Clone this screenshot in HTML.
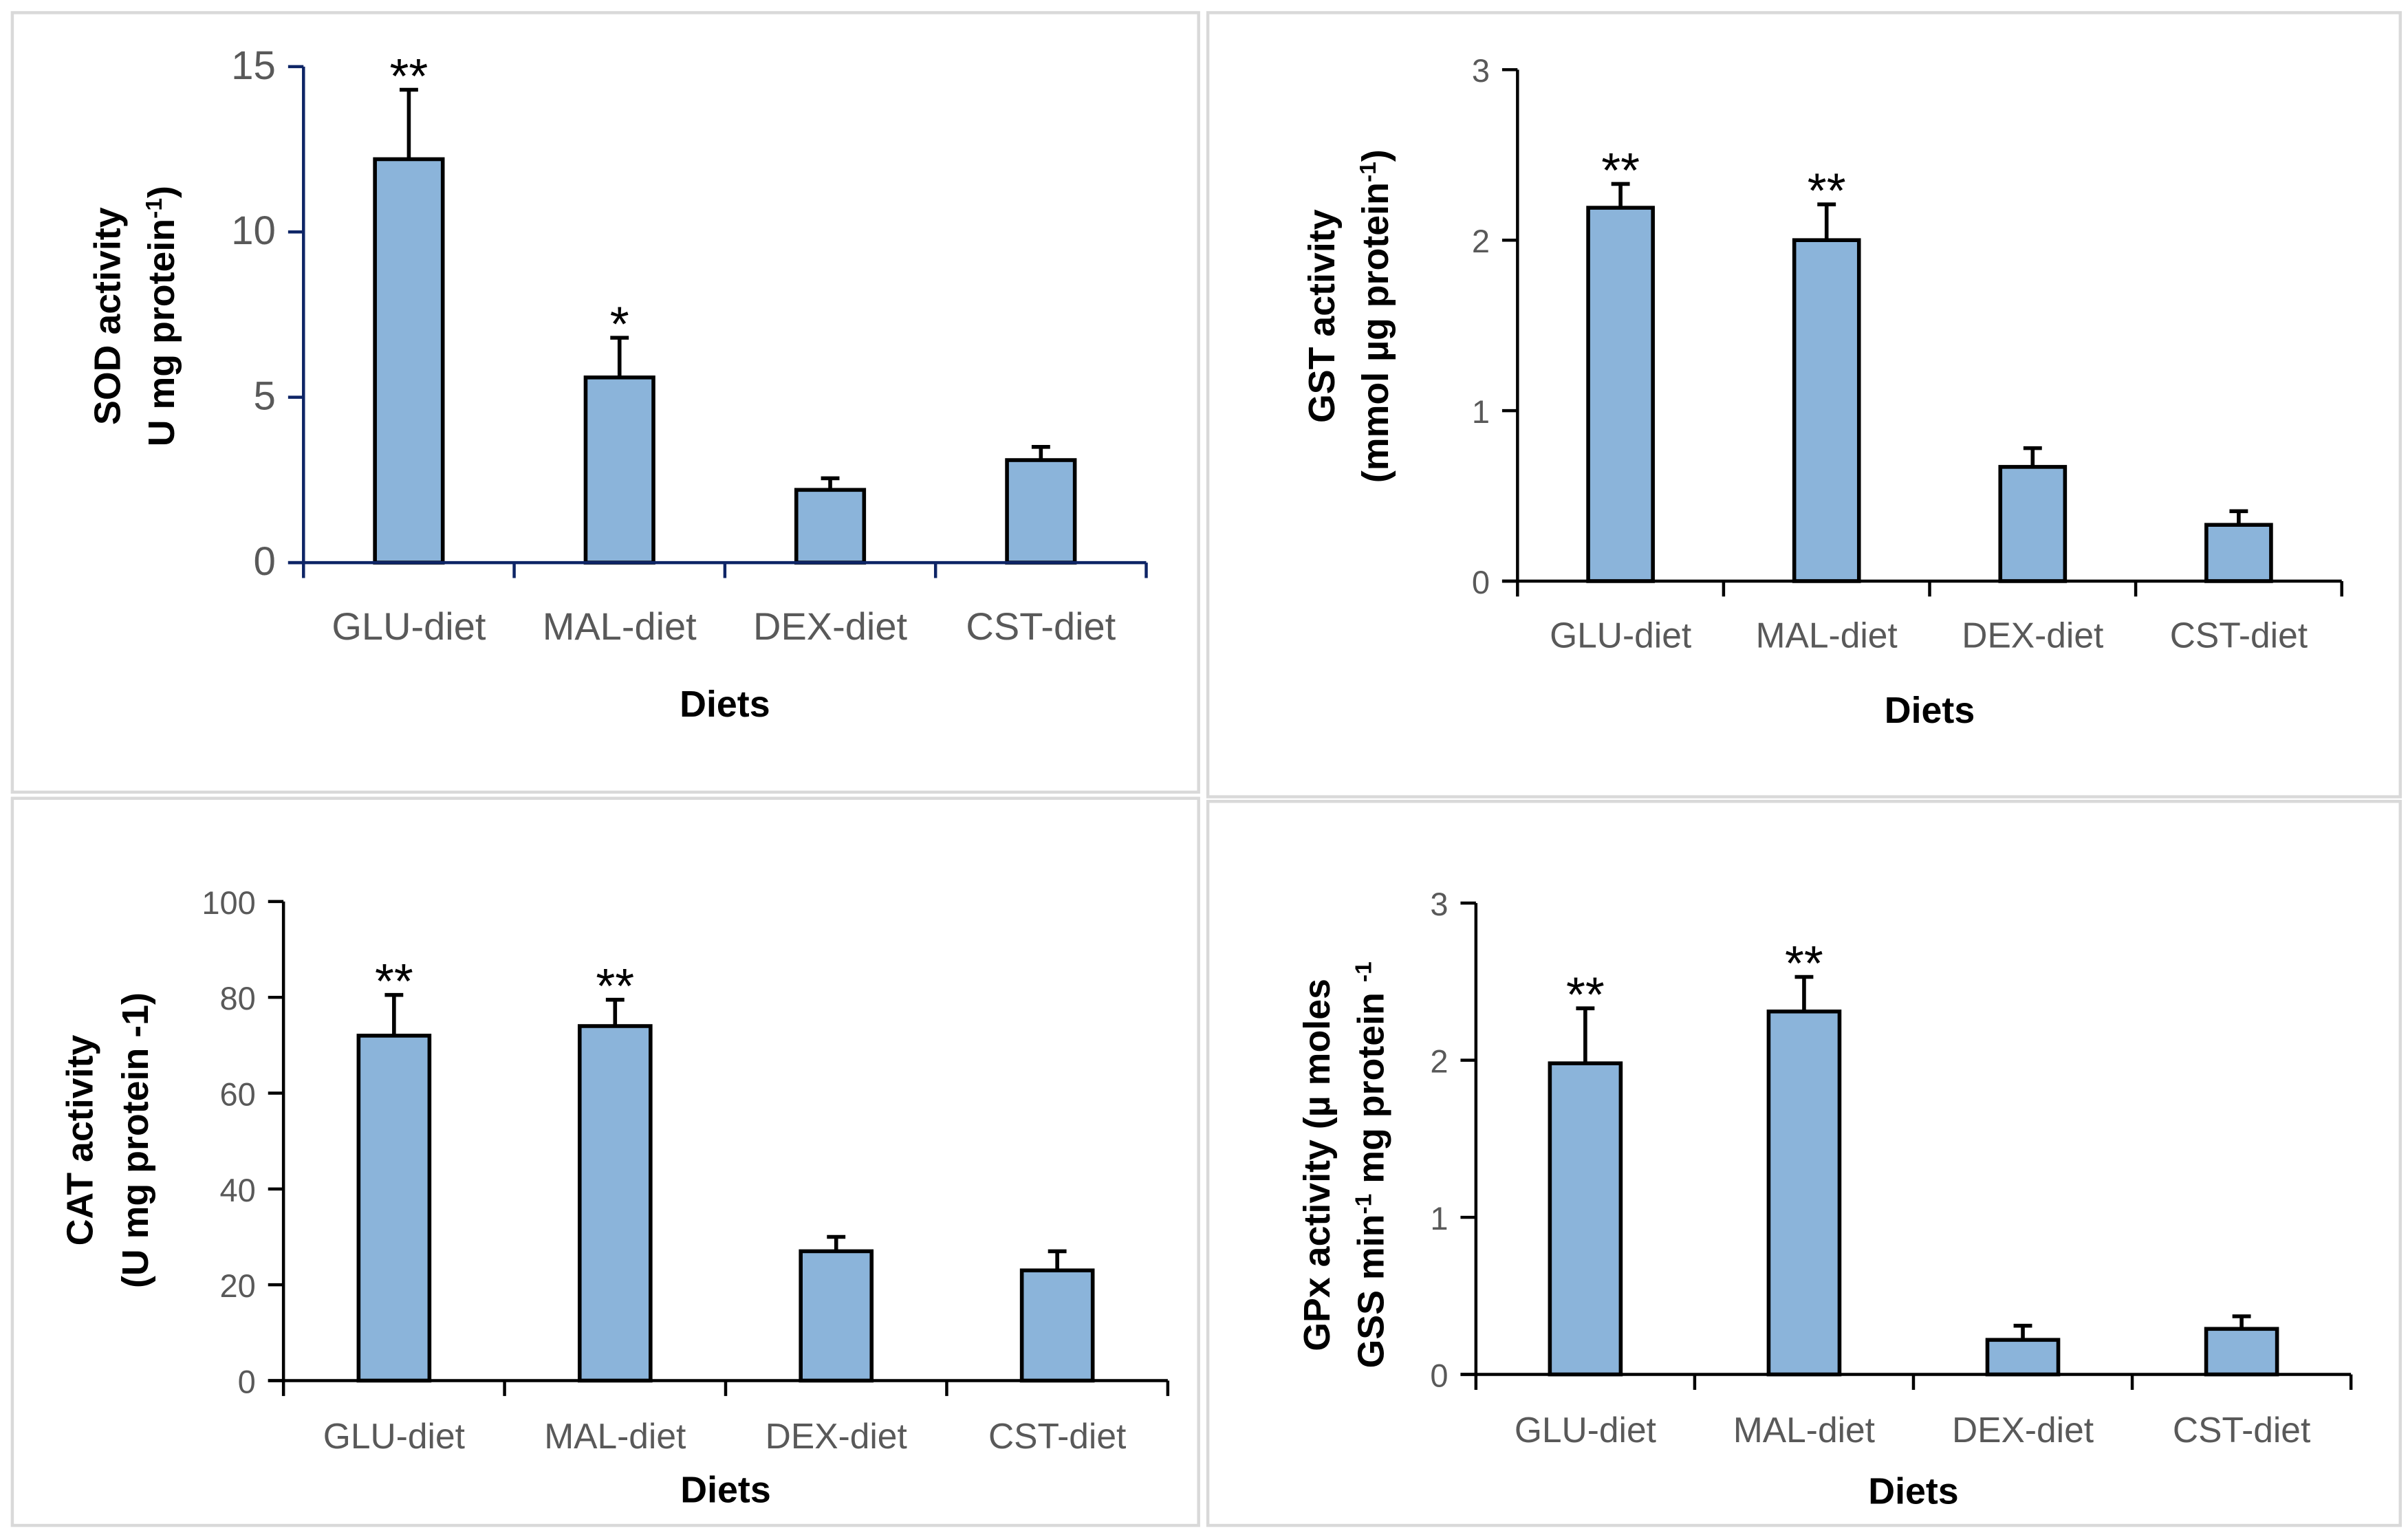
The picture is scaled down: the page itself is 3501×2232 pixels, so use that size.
<!DOCTYPE html>
<html><head><meta charset="utf-8"><style>
html,body{margin:0;padding:0;background:#fff;}
svg{display:block;}
text{font-family:"Liberation Sans",sans-serif;}
</style></head><body>
<svg id="chart" width="3501" height="2232" viewBox="0 0 1563 996" xmlns="http://www.w3.org/2000/svg">
<rect width="1563" height="996" fill="#fff"/>
</svg>
<script>
const categories = ["GLU-diet","MAL-diet","DEX-diet","CST-diet"];
const sodValues = [12.2, 5.6, 2.2, 3.1];
const sodErrors = [2.1, 1.2, 0.35, 0.4];
const sodStars = ["**","*","",""];
const sodTicks = [0,5,10,15];
const gstValues = [2.19, 2.0, 0.67, 0.33];
const gstErrors = [0.14, 0.21, 0.11, 0.08];
const gstStars = ["**","**","",""];
const gstTicks = [0,1,2,3];
const catValues = [72, 74, 27, 23];
const catErrors = [8.5, 5.5, 3, 4];
const catStars = ["**","**","",""];
const catTicks = [0,20,40,60,80,100];
const gpxValues = [1.98, 2.31, 0.22, 0.29];
const gpxErrors = [0.35, 0.22, 0.09, 0.08];
const gpxStars = ["**","**","",""];
const gpxTicks = [0,1,2,3];

const NS="http://www.w3.org/2000/svg";
const svg=document.getElementById('chart');
function el(tag,attrs,parent,text){const e=document.createElementNS(NS,tag);for(const k in attrs)e.setAttribute(k,attrs[k]);if(text!==undefined)e.textContent=text;(parent||svg).appendChild(e);return e;}

function panel(cfg){
  const g=el('g',{});
  
  
  const box=el('rect',{x:cfg.box[0],y:cfg.box[1],width:cfg.box[2],height:cfg.box[3],fill:'none',stroke:'#d9d9d9','stroke-width':2},g);
  
  
  const x0=cfg.x0,x1=cfg.x1,y0=cfg.y0,yTop=cfg.yTop,max=cfg.ticks[cfg.ticks.length-1];
  const ys=v=>y0-(v/max)*(y0-yTop);
  const step=(x1-x0)/categories.length;
  const xc=i=>x0+step*(i+0.5);
  const ac=cfg.axisColor;
  cfg.values.forEach((v,i)=>{
    const top=ys(v+cfg.errors[i]);
    const eb=el('path',{d:`M${xc(i)},${ys(v)} V${top} M${xc(i)-6},${top} H${xc(i)+6}`,stroke:'#000','stroke-width':2.5,fill:'none'},g);
    
    
    const b=el('rect',{x:xc(i)-cfg.bw/2,y:ys(v),width:cfg.bw,height:y0-ys(v),fill:'#8bb4da',stroke:'#000','stroke-width':2.5},g);
    
    
    if(cfg.stars[i]){
      const s=el('text',{x:xc(i),y:top+2,'text-anchor':'middle','font-size':32,fill:'#000','font-family':'DejaVu Sans, sans-serif'},g,cfg.stars[i].split('').join(''));
      
      
    }
    const lbl=el('text',{x:xc(i),y:cfg.labY,'text-anchor':'middle','font-size':cfg.labFs,fill:'#595959'},g,categories[i]);
    
    
  });
  const ya=el('line',{x1:x0,y1:y0,x2:x0,y2:yTop,stroke:ac,'stroke-width':2},g);
  
  
  const xa=el('line',{x1:x0-10,y1:y0,x2:x1,y2:y0,stroke:ac,'stroke-width':2},g);
  
  
  for(let i=0;i<=categories.length;i++){
    const t=el('line',{x1:x0+step*i,y1:y0,x2:x0+step*i,y2:y0+10,stroke:ac,'stroke-width':2},g);
    
    
  }
  cfg.ticks.forEach(v=>{
    const t=el('line',{x1:x0-10,y1:ys(v),x2:x0,y2:ys(v),stroke:ac,'stroke-width':2},g);
    
    
    const l=el('text',{x:x0-18,y:ys(v)+8,'text-anchor':'end','font-size':cfg.tickFs,fill:'#595959'},g,String(v));
    
    
  });
  const xt=el('text',{x:(x0+x1)/2,y:cfg.diY,'text-anchor':'middle','font-size':24,'font-weight':'bold',fill:'#000'},g,'Diets');
  
  
  cfg.titles.forEach((parts,k)=>{
    const t=el('text',{x:0,y:0,'text-anchor':'middle','font-size':24,'font-weight':'bold',fill:'#000',transform:`translate(${cfg.tX[k]},${cfg.tY}) rotate(-90)`},g);
    
    
    parts.forEach(p=>{
      el('tspan',p[1]?{'font-size':15,'baseline-shift':'super'}:{},t,p[0]);
    });
  });
}

panel({name:'sod-chart',box:[8,8,770,506],x0:197,x1:744,y0:365,yTop:43,bw:44,ticks:sodTicks,values:sodValues,errors:sodErrors,stars:sodStars,axisColor:'#0e2566',tickFs:26,labFs:25,labY:415,diY:465,
  titles:[[["SOD activity"]],[["U mg protein"],["-1",1],[")"]]],tX:[78,113],tY:205});
panel({name:'gst-chart',box:[784,8,774,509],x0:985,x1:1520,y0:377,yTop:45,bw:42,ticks:gstTicks,values:gstValues,errors:gstErrors,stars:gstStars,axisColor:'#000',tickFs:21,labFs:23,labY:420,diY:469,
  titles:[[["GST activity"]],[["(mmol µg protein"],["-1",1],[")"]]],tX:[866,901],tY:205});
panel({name:'cat-chart',box:[8,518,770,472],x0:184,x1:758,y0:896,yTop:585,bw:46,ticks:catTicks,values:catValues,errors:catErrors,stars:catStars,axisColor:'#000',tickFs:21,labFs:23,labY:940,diY:975,
  titles:[[["CAT activity"]],[["(U mg  protein -1)"]]],tX:[60,96],tY:740});
panel({name:'gpx-chart',box:[784,520,774,470],x0:958,x1:1526,y0:892,yTop:586,bw:46,ticks:gpxTicks,values:gpxValues,errors:gpxErrors,stars:gpxStars,axisColor:'#000',tickFs:21,labFs:23,labY:936,diY:976,
  titles:[[["GPx activity (µ moles"]],[["GSS min"],["-1",1],[" mg protein "],["-1",1]]],tX:[863,898],tY:756});
</script>
</body></html>
